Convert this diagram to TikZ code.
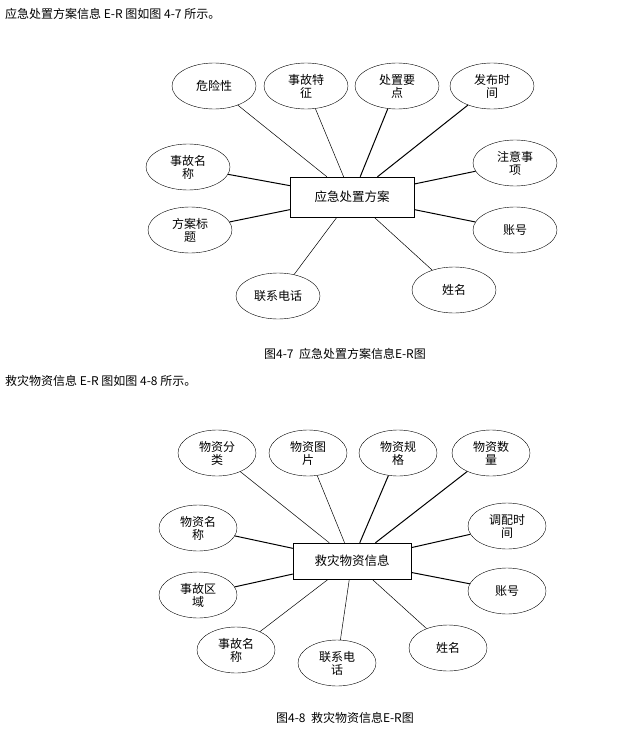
\documentclass[tikz,border=0pt]{standalone}
\usepackage{fontspec}
\usetikzlibrary{shapes.geometric}
\setmainfont{Liberation Serif}
\newfontfamily\cjk{Noto Sans CJK SC}
\begin{document}
\begin{tikzpicture}[x=1pt,y=-1pt,
  attr/.style={draw,ellipse,minimum width=84pt,minimum height=46pt,inner sep=0pt,align=center,font=\cjk\fontsize{12}{13}\selectfont},
  ent/.style={draw,rectangle,minimum width=124pt,minimum height=40pt,font=\cjk\fontsize{12.5}{14}\selectfont},
  ln/.style={draw,line width=0.5pt},
  lk/.style={draw,line width=1pt},
  txt/.style={anchor=west,font=\cjk\fontsize{12}{14}\selectfont,inner sep=0pt}]
\useasboundingbox (0,0) rectangle (626,733);
\node[txt] (t1) at (5,14) {应急处置方案信息 E-R 图如图 4-7 所示。};
\node[ent] (c1) at (352,197) {应急处置方案};
\node[attr] (a1) at (214,86) {危险性};
\node[attr] (a2) at (306,86) {事故特\\征};
\node[attr] (a3) at (397,86) {处置要\\点};
\node[attr] (a4) at (492,86) {发布时\\间};
\node[attr] (a5) at (188,167) {事故名\\称};
\node[attr] (a6) at (190,230) {方案标\\题};
\node[attr] (a7) at (278,296) {联系电话};
\node[attr] (a8) at (454,290) {姓名};
\node[attr] (a9) at (515,163) {注意事\\项};
\node[attr] (a10) at (515,230) {账号};
\foreach \a in {a1,a2,a7,a8} \path[ln] (\a) -- (c1);
\foreach \a in {a3,a4,a5,a6,a9,a10} \path[lk] (\a) -- (c1);
\node[font=\cjk\fontsize{12}{14}\selectfont] (cap1) at (345,354) {图4-7\ \ 应急处置方案信息E-R图};
\node[txt] (t2) at (5,381) {救灾物资信息 E-R 图如图 4-8 所示。};
\node[ent,minimum width=118pt,minimum height=36pt] (c2) at (352,561) {救灾物资信息};
\node[attr,minimum width=78pt] (b1) at (217,453) {物资分\\类};
\node[attr,minimum width=78pt] (b2) at (308,453) {物资图\\片};
\node[attr,minimum width=78pt] (b3) at (398,453) {物资规\\格};
\node[attr,minimum width=78pt] (b4) at (491,453) {物资数\\量};
\node[attr,minimum width=78pt] (b5) at (198,528) {物资名\\称};
\node[attr,minimum width=78pt] (b6) at (198,595) {事故区\\域};
\node[attr,minimum width=78pt] (b7) at (236,650) {事故名\\称};
\node[attr,minimum width=78pt] (b8) at (337,663) {联系电\\话};
\node[attr,minimum width=78pt] (b9) at (448,648) {姓名};
\node[attr,minimum width=78pt] (b10) at (507,526) {调配时\\间};
\node[attr,minimum width=78pt] (b11) at (507,591) {账号};
\foreach \a in {b1,b2,b7,b8,b9} \path[ln] (\a) -- (c2);
\foreach \a in {b3,b4,b5,b6,b10,b11} \path[lk] (\a) -- (c2);
\node[font=\cjk\fontsize{12}{14}\selectfont] (cap2) at (345,718) {图4-8\ \ 救灾物资信息E-R图};
\end{tikzpicture}
\end{document}
